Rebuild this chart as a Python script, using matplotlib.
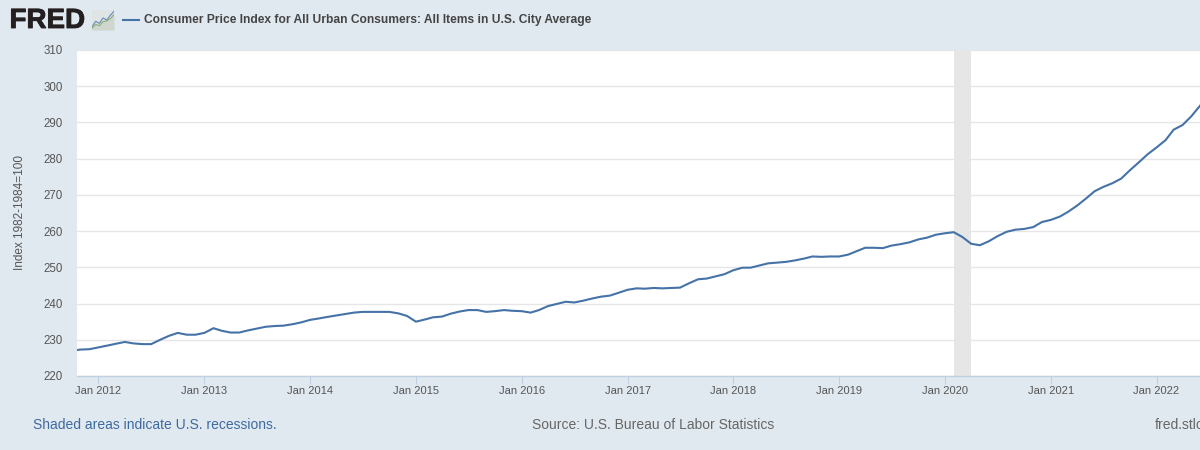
import matplotlib
matplotlib.use("Agg")
import matplotlib.pyplot as plt
import matplotlib.patheffects as pe
import pandas as pd

plt.rcParams["font.family"] = ["Liberation Sans", "DejaVu Sans"]

# monthly index values, Oct 2011 to Jun 2022
cpi_2011 = [227.0, 227.3, 227.4]
cpi_2012 = [227.9, 228.4, 228.9, 229.4, 229.0, 228.8, 228.8, 230.0, 231.1, 231.9, 231.4, 231.4]
cpi_2013 = [231.9, 233.2, 232.5, 232.0, 232.0, 232.6, 233.1, 233.6, 233.8, 233.9, 234.3, 234.8]
cpi_2014 = [235.5, 235.9, 236.3, 236.7, 237.1, 237.5, 237.7, 237.7, 237.7, 237.7, 237.3, 236.6]
cpi_2015 = [235.0, 235.6, 236.2, 236.4, 237.2, 237.8, 238.2, 238.2, 237.7, 237.9, 238.2, 238.0]
cpi_2016 = [237.9, 237.5, 238.2, 239.3, 239.9, 240.5, 240.3, 240.8, 241.4, 241.9, 242.2, 243.0]
cpi_2017 = [243.8, 244.2, 244.1, 244.3, 244.2, 244.3, 244.4, 245.6, 246.7, 246.9, 247.5, 248.1]
cpi_2018 = [249.2, 249.9, 249.9, 250.5, 251.1, 251.3, 251.5, 251.9, 252.4, 253.0, 252.9, 253.0]
cpi_2019 = [253.0, 253.5, 254.4, 255.4, 255.4, 255.3, 256.0, 256.4, 256.9, 257.7, 258.2, 259.0]
cpi_2020 = [259.4, 259.7, 258.4, 256.5, 256.1, 257.2, 258.6, 259.8, 260.4, 260.6, 261.1, 262.5]
cpi_2021 = [263.1, 264.0, 265.3, 267.0, 268.9, 271.0, 272.2, 273.2, 274.5, 276.8, 279.0, 281.2]
cpi_2022 = [283.1, 285.1, 288.0, 289.3, 291.7, 294.7]
cpi = cpi_2011 + cpi_2012 + cpi_2013 + cpi_2014 + cpi_2015 + cpi_2016 + cpi_2017 + cpi_2018 + cpi_2019 + cpi_2020 + cpi_2021 + cpi_2022
months = pd.date_range("2011-10-01", periods=len(cpi), freq="MS")

y_ticks = [220, 230, 240, 250, 260, 270, 280, 290, 300, 310]
x_years = [2012, 2013, 2014, 2015, 2016, 2017, 2018, 2019, 2020, 2021, 2022]
x_ticks = [pd.Timestamp(year=y, month=1, day=1) for y in x_years]
x_labels = ["Jan %d" % y for y in x_years]
recession = [pd.Timestamp("2020-02-01"), pd.Timestamp("2020-04-01")]

# logo sparkline
icon_x = [0, 1, 2, 3, 4, 5, 6]
icon_a = [1.0, 2.6, 2.0, 3.6, 3.0, 4.4, 5.6]
icon_b = [0.5, 1.7, 1.3, 2.5, 2.7, 3.4, 4.6]

bg = "#e1e9f0"
fig = plt.figure(figsize=(12, 4.5), dpi=100, facecolor=bg)
ax = fig.add_axes([77 / 1200, 1 - 376 / 450, 1123 / 1200, 326 / 450], facecolor="white")

ax.axvspan(recession[0], recession[1], color="#e6e6e6", lw=0, zorder=1)
ax.set_yticks(y_ticks)
ax.grid(True, axis="y", color="#e6e6e6", lw=1, zorder=0)
ax.plot(months, cpi, color="#4572a7", lw=1.5, zorder=3, solid_joinstyle="round")

ax.set_ylim(220, 310)
ax.set_xlim(pd.Timestamp("2011-10-19"), pd.Timestamp("2022-05-31"))
ax.set_xticks(x_ticks)
ax.set_xticklabels(x_labels)
ax.tick_params(axis="x", length=5.8, width=0.8, color="#c0d0e0", labelsize=8.0, labelcolor="#555555", pad=1.6)
ax.tick_params(axis="y", length=0, labelsize=8.3, labelcolor="#555555", pad=10.2)
for side in ["top", "right", "left"]:
    ax.spines[side].set_visible(False)
ax.spines["bottom"].set_color("#c0d0e0")
ax.spines["bottom"].set_linewidth(1)

fig.text(20 / 1200, 1 - 212.5 / 450, "Index 1982-1984=100", rotation=90, ha="center", va="center",
         fontsize=8.5, color="#555555")

# header
fig.text(9.5 / 1200, 1 - 21 / 450, "FRED", fontsize=20, fontweight="bold", color="#231f20",
         ha="left", va="center", path_effects=[pe.withStroke(linewidth=0.6, foreground="#231f20")])
icon = fig.add_axes([92 / 1200, 1 - 30 / 450, 22 / 1200, 20 / 450], facecolor="#dfe5e4")
icon.fill_between(icon_x, icon_b, 0, color="#cfd6ce", lw=0)
icon.plot(icon_x, icon_a, color="#6f93b3", lw=0.9)
icon.plot(icon_x, icon_b, color="#8fae7f", lw=0.9)
icon.set_xlim(0, 6)
icon.set_ylim(0, 6)
icon.set_xticks([])
icon.set_yticks([])
for side in icon.spines:
    icon.spines[side].set_visible(False)

fig.add_artist(plt.Line2D([123 / 1200, 139 / 1200], [1 - 20 / 450, 1 - 20 / 450], color="#4572a7", lw=1.5))
fig.text(144 / 1200, 1 - 19.5 / 450, "Consumer Price Index for All Urban Consumers: All Items in U.S. City Average",
         fontsize=8.67, fontweight="bold", color="#444444", ha="left", va="center")

# footer
fig.text(33 / 1200, 1 - 425 / 450, "Shaded areas indicate U.S. recessions.", fontsize=10.0, color="#3e6a9f",
         ha="left", va="center")
fig.text(532 / 1200, 1 - 425 / 450, "Source: U.S. Bureau of Labor Statistics", fontsize=10.0, color="#666666",
         ha="left", va="center")
fig.text(1155 / 1200, 1 - 425 / 450, "fred.stlouisfed.org", fontsize=10.0, color="#666666",
         ha="left", va="center")

fig.savefig("out.png", dpi=100, facecolor=bg)
